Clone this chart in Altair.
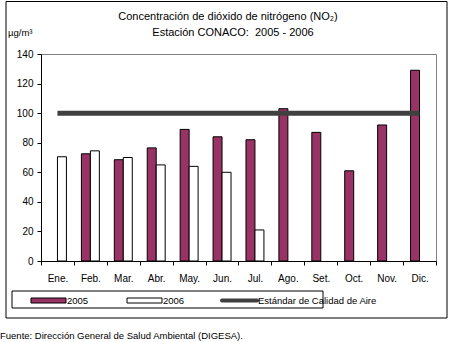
import altair as alt
import pandas as pd

months = ["Ene.", "Feb.", "Mar.", "Abr.", "May.", "Jun.", "Jul.", "Ago.", "Set.", "Oct.", "Nov.", "Dic."]
v2005 = [None, 72.5, 68.5, 76.5, 89, 84, 82, 103, 87, 61, 92, 129]
v2006 = [70.5, 74.5, 70, 65, 64, 60, 21, None, None, None, None, None]
standard = 100
years = ["2005", "2006"]
y_ticks = [0, 20, 40, 60, 80, 100, 120, 140]

title1 = "Concentración de dióxido de nitrógeno (NO₂)"
title2 = "Estación CONACO:\u00a0\u00a02005 - 2006"
unit = "µg/m³"
std_label = "Estándar de Calidad de Aire"
footer = "Fuente: Dirección General de Salud Ambiental (DIGESA)."

FONT = "Liberation Sans, Arial"
PLUM = "#993366"
LINE = "#404040"

rows = []
for m, a, b in zip(months, v2005, v2006):
    if a is not None:
        rows.append({"month": m, "year": "2005", "value": a})
    if b is not None:
        rows.append({"month": m, "year": "2006", "value": b})
bars_df = pd.DataFrame(rows)
std_df = pd.DataFrame({"month": months, "value": [standard] * len(months)})
one = pd.DataFrame({"k": [0]})

W, H = 395, 207

xscale = alt.Scale(domain=months, paddingInner=0, paddingOuter=0)
yscale = alt.Scale(domain=[0, 140])
xaxis = alt.Axis(labelAngle=0, tickBand="extent", tickSize=4, tickColor="black",
                 domainColor="black", labelPadding=8, labelFontSize=10,
                 labelColor="black", grid=False, labelFont=FONT)
yaxis = alt.Axis(values=y_ticks, tickSize=4, tickColor="black", labelOverlap=False,
                 domainColor="black", labelPadding=4, labelFontSize=10,
                 labelColor="black", grid=False, labelFont=FONT)

bars = alt.Chart(bars_df).mark_bar(stroke="black", strokeWidth=1).encode(
    x=alt.X("month:N", sort=months, scale=xscale, title=None, axis=xaxis),
    xOffset=alt.XOffset("year:N", scale=alt.Scale(domain=years, paddingInner=0, paddingOuter=0.833)),
    y=alt.Y("value:Q", scale=yscale, title=None, axis=yaxis),
    fill=alt.Fill("year:N", scale=alt.Scale(domain=years, range=[PLUM, "#ffffff"]), legend=None),
)

std_line = alt.Chart(std_df).mark_line(color=LINE, strokeWidth=5, strokeCap="butt").encode(
    x=alt.X("month:N", sort=months, scale=xscale, title=None, axis=xaxis),
    y=alt.Y("value:Q", scale=yscale, title=None, axis=yaxis),
)

def rect(x, x2, y, y2, fill="none", stroke="black", sw=1):
    return alt.Chart(one).mark_rect(fill=fill, stroke=stroke, strokeWidth=sw).encode(
        x=alt.value(x), x2=alt.value(x2), y=alt.value(y), y2=alt.value(y2))

def text(t, x, y, size=11, align="left", baseline="middle"):
    return alt.Chart(one).mark_text(text=t, font=FONT, fontSize=size, align=align,
                                    baseline=baseline, color="black").encode(
        x=alt.value(x), y=alt.value(y))

frame = rect(-35, 406, -52.5, 264)
legend_box = rect(-29, 282, 237, 254)
sw2005 = rect(-10, 25, 244, 249, fill=PLUM)
sw2006 = rect(86, 121, 244, 249, fill="#ffffff")
leg_line = alt.Chart(one).mark_rule(color=LINE, strokeWidth=4, strokeCap="round").encode(
    x=alt.value(181), x2=alt.value(216), y=alt.value(246.5))

layers = [
    frame, bars, std_line,
    text(title1, 187, -37, 11, "center"),
    text(title2, 192, -21, 11, "center"),
    text(unit, -33, -21, 9.5),
    legend_box, sw2005, sw2006, leg_line,
    text("2005", 26, 246.5, 9.5),
    text("2006", 122, 246.5, 9.5),
    text(std_label, 217, 246.5, 9.5),
    text(footer, -41, 282, 9.5),
]

chart = alt.layer(*layers).properties(
    width=W, height=H,
    autosize=alt.AutoSizeParams(type="none"),
    padding={"left": 41, "top": 54, "right": 15, "bottom": 81},
    background="white",
).configure_view(stroke="#808080", strokeWidth=1)

chart.save("out.html", embed_options={"renderer": "svg", "actions": False})
